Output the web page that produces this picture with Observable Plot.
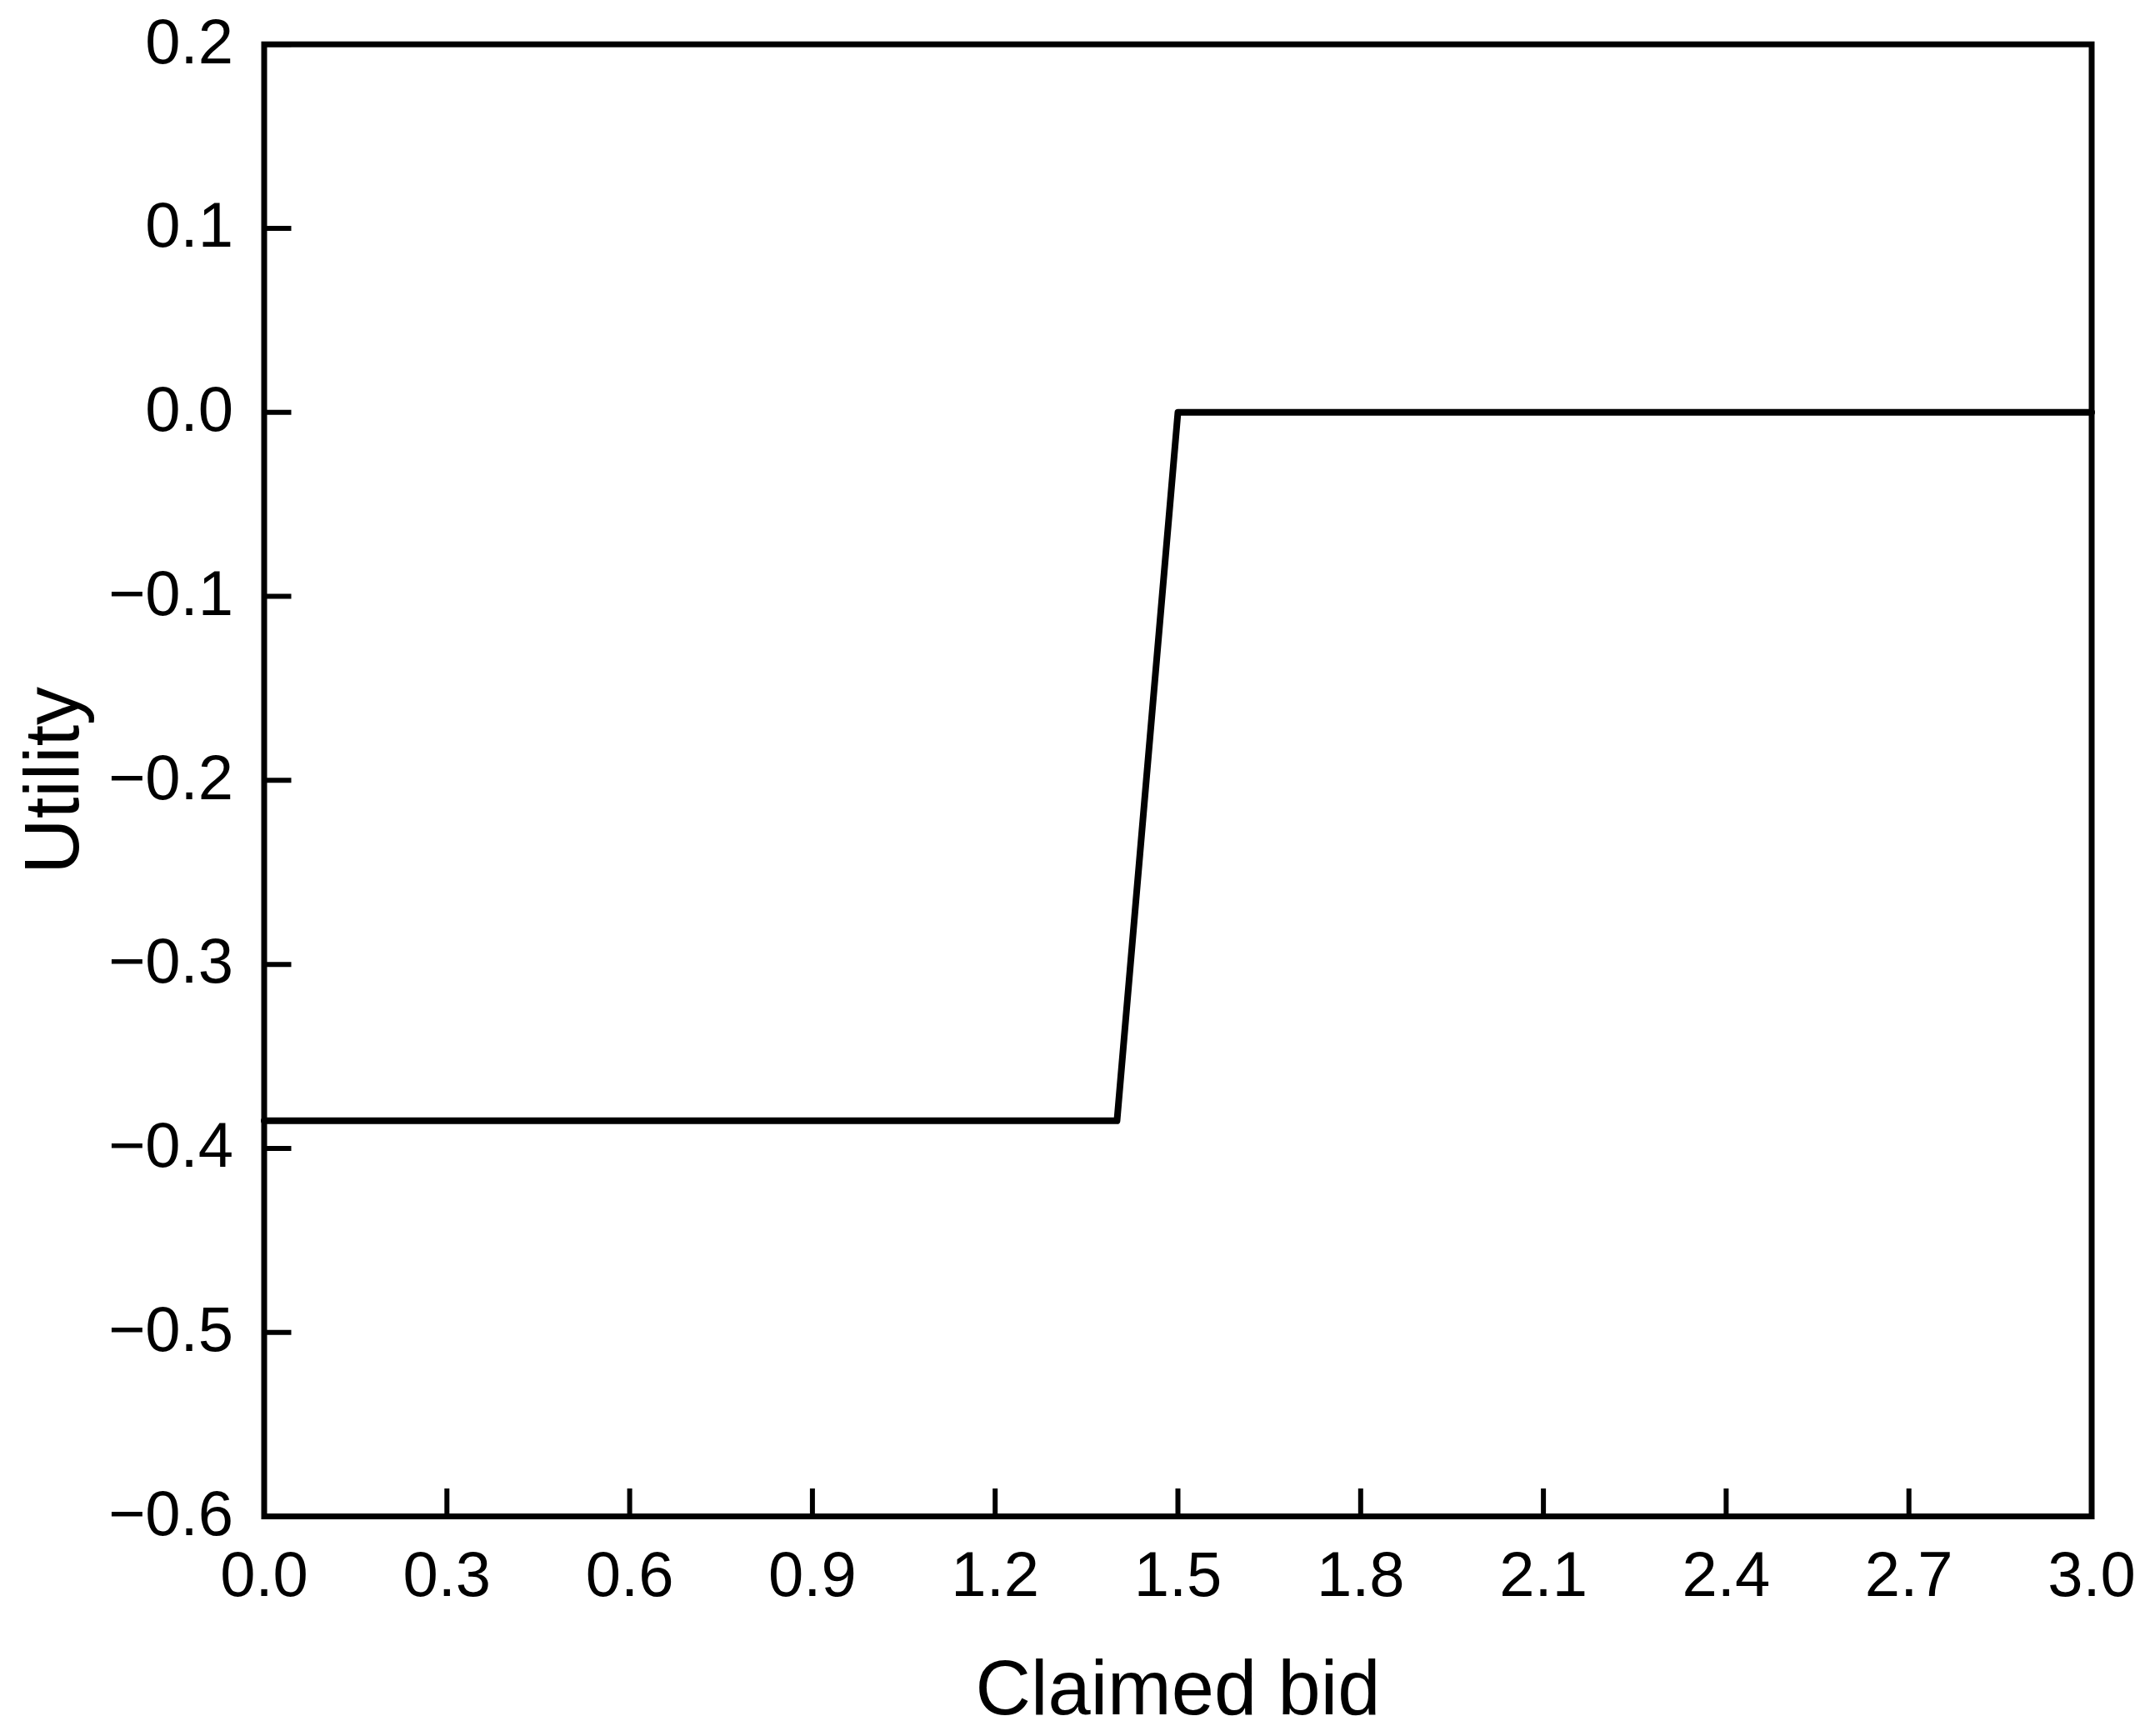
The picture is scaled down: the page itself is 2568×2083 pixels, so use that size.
<!DOCTYPE html>
<html>
<head>
<meta charset="utf-8">
<script src="https://cdn.jsdelivr.net/npm/d3@7"></script>
<script src="https://cdn.jsdelivr.net/npm/@observablehq/plot@0.6"></script>
<style>
  html, body { margin: 0; padding: 0; background: #fff; }
  svg { display: block; }
</style>
</head>
<body>
<div id="chart"></div>
<script>
// Data
const claimedBid = [0.0, 1.4, 1.5, 3.0];
const utility = [-0.385, -0.385, 0.0, 0.0];
const xTicks = [0.0, 0.3, 0.6, 0.9, 1.2, 1.5, 1.8, 2.1, 2.4, 2.7, 3.0];
const yTicks = [-0.6, -0.5, -0.4, -0.3, -0.2, -0.1, 0.0, 0.1, 0.2];
const xLabel = "Claimed bid";
const yLabel = "Utility";

const data = claimedBid.map((x, i) => ({x, y: utility[i]}));
const fmt = d3.format(".1f");
const font = "'Liberation Sans', Arial, Helvetica, sans-serif";

const chart = Plot.plot({
  width: 2568,
  height: 2083,
  marginLeft: 316.5,
  marginRight: 58.5,
  marginTop: 52.7,
  marginBottom: 264,
  style: {fontFamily: font, background: "#fff", color: "#000"},
  x: {domain: [0, 3]},
  y: {domain: [-0.6, 0.2]},
  marks: [
    Plot.axisX(xTicks, {anchor: "bottom", tickSize: -33, strokeWidth: 6, tickFormat: () => "", label: null}),
    Plot.axisX(xTicks, {anchor: "bottom", tickSize: 0, tickPadding: 42, tickFormat: fmt, fontSize: 76, label: null}),
    Plot.axisY(yTicks, {anchor: "left", tickSize: 0, tickSize: -33, strokeWidth: 6, tickFormat: () => "", label: null}),
    Plot.axisY(yTicks, {anchor: "left", tickSize: 0, tickPadding: 37, tickFormat: fmt, fontSize: 76, dy: -2, label: null}),
    Plot.line(data, {x: "x", y: "y", stroke: "#000", strokeWidth: 8}),
    Plot.frame({stroke: "#000", strokeWidth: 7}),
    Plot.text([xLabel], {frameAnchor: "bottom", lineAnchor: "bottom", dy: 237, fontSize: 92, fill: "#000"}),
    Plot.text([yLabel], {frameAnchor: "left", textAnchor: "middle", lineAnchor: "bottom", rotate: -90, dx: -223.5, fontSize: 92, fill: "#000"})
  ]
});
document.getElementById("chart").appendChild(chart);
</script>
</body>
</html>
